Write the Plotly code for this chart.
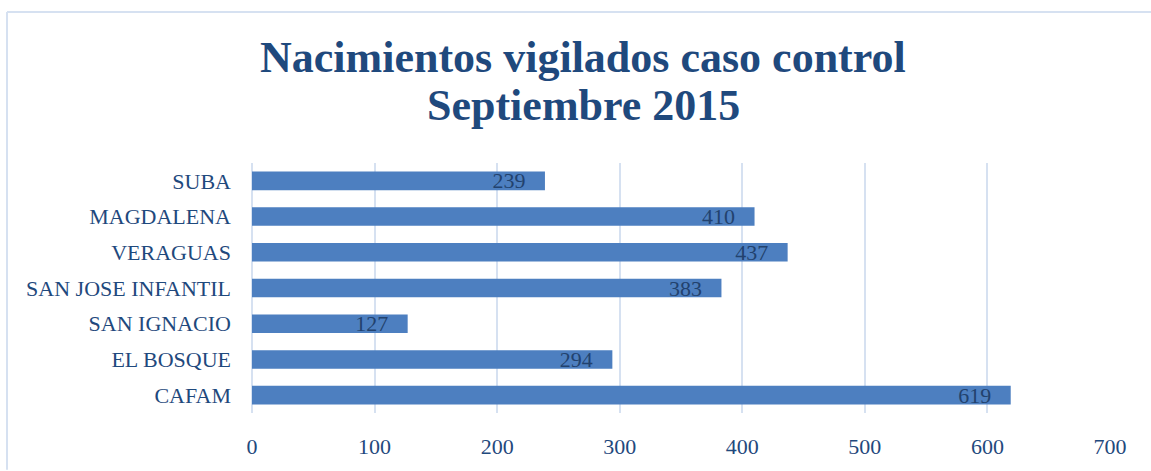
import plotly.graph_objects as go

categories = ["CAFAM", "EL BOSQUE", "SAN IGNACIO", "SAN JOSE INFANTIL", "VERAGUAS", "MAGDALENA", "SUBA"]
values = [619, 294, 127, 383, 437, 410, 239]
tick_vals = [0, 100, 200, 300, 400, 500, 600, 700]
title_lines = ["Nacimientos vigilados caso control", "Septiembre 2015"]

W, H = 1151, 471
L, R, T, B = 252, 41, 163, 53
pw, ph = W - L - R, H - T - B


def py(pix):
    return (H - B - pix) / ph


def px(pix):
    return (pix - L) / pw


fig = go.Figure(go.Bar(
    y=categories, x=values, orientation="h",
    marker=dict(color="#4d7fc0", line=dict(width=0)),
    texttemplate="%{x}\u00a0\u00a0\u00a0", textposition="inside", insidetextanchor="end",
    constraintext="none",
    textfont=dict(family="Liberation Serif", size=22, color="#22426e"),
    cliponaxis=False,
))

title_font = dict(family="Liberation Serif", size=44, color="#1f497d")
annotations = [
    dict(text="<b>%s</b>" % title_lines[0], xref="paper", yref="paper",
         x=px(583), y=py(55), xanchor="center", yanchor="middle",
         showarrow=False, font=title_font),
    dict(text="<b>%s</b>" % title_lines[1], xref="paper", yref="paper",
         x=px(583), y=py(104), xanchor="center", yanchor="middle",
         showarrow=False, font=title_font),
]

fig.update_layout(
    width=W, height=H,
    margin=dict(l=L, r=R, t=T, b=B),
    paper_bgcolor="white", plot_bgcolor="white",
    bargap=0.48,
    showlegend=False,
    annotations=annotations,
    xaxis=dict(
        range=[0, 700], tickvals=tick_vals, showgrid=True,
        gridcolor="#d6e1f1", gridwidth=2, zeroline=True, zerolinecolor="#d6e1f1", zerolinewidth=2,
        showline=False, ticks="", ticklabelstandoff=18,
        tickfont=dict(family="Liberation Serif", size=22, color="#1f497d"),
    ),
    yaxis=dict(
        showgrid=False, showline=False, ticks="", ticklabelstandoff=20,
        tickfont=dict(family="Liberation Serif", size=22, color="#1f497d"),
    ),
    shapes=[
        dict(type="line", xref="paper", yref="paper",
             x0=px(7), x1=px(W + 5), y0=py(9), y1=py(9),
             line=dict(color="#d6e1f1", width=2)),
        dict(type="line", xref="paper", yref="paper",
             x0=px(7), x1=px(7), y0=py(9), y1=py(H + 5),
             line=dict(color="#d6e1f1", width=2)),
    ],
)

fig.write_html("out.html")
